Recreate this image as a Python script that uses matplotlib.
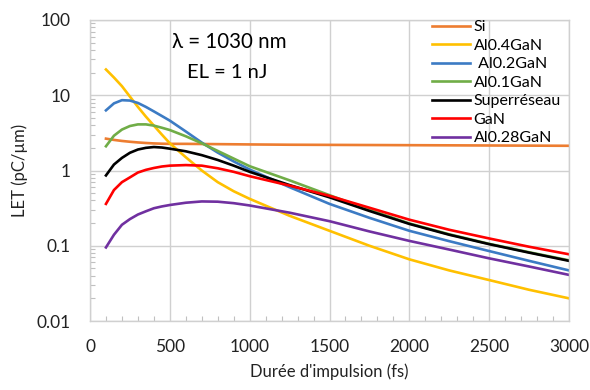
import numpy as np
import matplotlib
matplotlib.use("Agg")
import matplotlib.pyplot as plt
from matplotlib.ticker import LogLocator, MultipleLocator, FixedLocator, NullFormatter

plt.rcParams['font.family'] = ['Lato', 'DejaVu Sans']

# pulse duration (fs)
duree = [100, 150, 200, 250, 300, 350, 400, 450, 500, 600, 700, 800, 900, 1000,
         1250, 1500, 1750, 2000, 2250, 2500, 2750, 3000]

# LET (pC/um) per material
si = [2.65, 2.55, 2.47, 2.41, 2.36, 2.32, 2.29, 2.27, 2.26, 2.26, 2.25, 2.24, 2.23, 2.22,
      2.20, 2.19, 2.18, 2.17, 2.16, 2.15, 2.14, 2.13]
al04 = [22, 17.2, 13.2, 9.6, 7.0, 5.2, 3.95, 3.0, 2.3, 1.5, 1.0, 0.7, 0.53, 0.42,
        0.25, 0.158, 0.1, 0.066, 0.047, 0.035, 0.026, 0.02]
al02 = [6.3, 7.8, 8.6, 8.5, 7.9, 7.0, 6.1, 5.3, 4.6, 3.3, 2.35, 1.73, 1.32, 1.03,
        0.6, 0.36, 0.235, 0.158, 0.115, 0.085, 0.063, 0.047]
al01 = [2.1, 2.9, 3.5, 3.9, 4.1, 4.1, 3.95, 3.7, 3.45, 2.85, 2.3, 1.82, 1.44, 1.14,
        0.74, 0.47, 0.3, 0.198, 0.142, 0.106, 0.082, 0.064]
superreseau = [0.86, 1.2, 1.47, 1.72, 1.9, 2.0, 2.05, 2.02, 1.95, 1.8, 1.6, 1.38, 1.16, 0.96,
               0.64, 0.44, 0.29, 0.195, 0.14, 0.105, 0.081, 0.063]
gan = [0.36, 0.55, 0.7, 0.81, 0.94, 1.02, 1.08, 1.13, 1.16, 1.18, 1.16, 1.07, 0.96, 0.84,
       0.63, 0.46, 0.32, 0.222, 0.163, 0.125, 0.097, 0.077]
al028 = [0.095, 0.14, 0.19, 0.226, 0.26, 0.287, 0.315, 0.333, 0.348, 0.373, 0.388, 0.385, 0.368, 0.343,
         0.275, 0.212, 0.155, 0.116, 0.089, 0.068, 0.053, 0.041]

series = [
    ("Si", si, "#ED7D31"),
    ("Al0.4GaN", al04, "#FFC000"),
    (" Al0.2GaN", al02, "#3C7BC4"),
    ("Al0.1GaN", al01, "#70AD47"),
    ("Superréseau", superreseau, "#000000"),
    ("GaN", gan, "#FF0000"),
    ("Al0.28GaN", al028, "#7030A0"),
]

fig = plt.figure(figsize=(5.9, 3.9), dpi=100)
ax = fig.add_axes([90 / 590, 1 - 321 / 390, (569 - 90) / 590, (321 - 20) / 390])

for label, vals, color in series:
    ax.plot(duree, vals, color=color, lw=1.9, label=label, solid_joinstyle='round')

ax.set_yscale('log')
ax.set_xlim(0, 3000)
ax.set_ylim(0.01, 100)

ax.xaxis.set_major_locator(MultipleLocator(500))
ax.xaxis.set_minor_locator(MultipleLocator(100))
ax.yaxis.set_major_locator(FixedLocator([0.01, 0.1, 1, 10, 100]))
ax.yaxis.set_minor_locator(LogLocator(base=10, subs=np.arange(2, 10)))
ax.yaxis.set_minor_formatter(NullFormatter())
ax.set_yticklabels(["0.01", "0.1", "1", "10", "100"])

grid_c = "#d0d0d0"
ax.grid(True, which='major', color=grid_c, lw=1.0)
for sp in ax.spines.values():
    sp.set_color(grid_c)
    sp.set_linewidth(1.0)
ax.tick_params(which='major', length=0, labelsize=12.5, pad=14, colors='#222222')
ax.tick_params(which='minor', direction='in', length=3.5, color='#c0c0c0', width=0.8)
ax.tick_params(axis='x', which='major', pad=13)

ax.set_xlabel("Durée d'impulsion (fs)", fontsize=12, color='#222222', labelpad=6)
ax.set_ylabel("LET (pC/µm)", fontsize=12, color='#222222', labelpad=6)

fig.text(229 / 590, 1 - 42 / 390, "λ = 1030 nm", fontsize=14.8, ha='center', va='center')
fig.text(227 / 590, 1 - 73 / 390, "EL = 1 nJ", fontsize=14.5, ha='center', va='center')

ax.legend(loc='upper left', bbox_to_anchor=(432 / 590, 1 - 20 / 390),
          bbox_transform=fig.transFigure, frameon=False, fontsize=11.5,
          borderaxespad=0, borderpad=0, handlelength=2.4, handletextpad=0.2,
          labelspacing=0.27)

fig.savefig("out.png", dpi=100)
